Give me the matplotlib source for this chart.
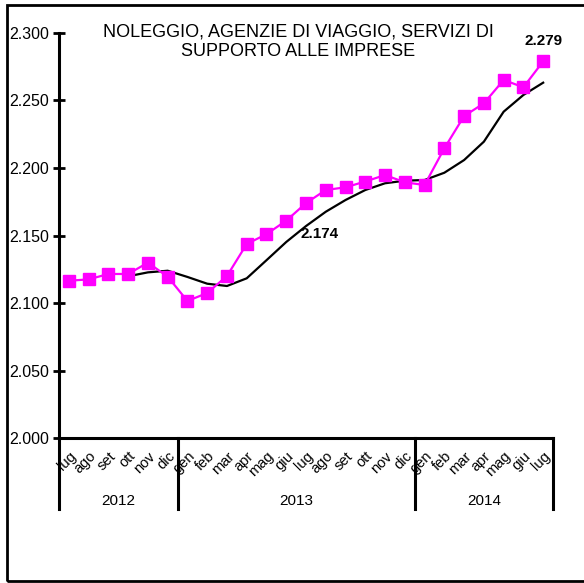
import numpy as np
import matplotlib.pyplot as plt
from matplotlib.lines import Line2D
from matplotlib.patches import Rectangle

plt.rcParams['font.family'] = ['Liberation Sans', 'DejaVu Sans']

# months from lug 2012 to lug 2014
mesi = ['lug', 'ago', 'set', 'ott', 'nov', 'dic',
        'gen', 'feb', 'mar', 'apr', 'mag', 'giu', 'lug', 'ago', 'set', 'ott', 'nov', 'dic',
        'gen', 'feb', 'mar', 'apr', 'mag', 'giu', 'lug']
anni = ['2012', '2013', '2014']
mesi_per_anno = [6, 12, 7]

# monthly values (magenta series)
valori = [2.1165, 2.1175, 2.1215, 2.1215, 2.1299, 2.1195,
          2.1015, 2.1074, 2.1200, 2.1437, 2.1510, 2.1610, 2.1740, 2.1837, 2.1857, 2.1900, 2.1948, 2.1894,
          2.1874, 2.2146, 2.2385, 2.2479, 2.2652, 2.2598, 2.2790]
# trend (black line), starts at ott 2012
trend = [np.nan, np.nan, np.nan, 2.1198, 2.1227, 2.1239,
         2.1193, 2.1143, 2.1126, 2.1183, 2.1317, 2.1452, 2.1570, 2.1676, 2.1763, 2.1837, 2.1887, 2.1906,
         2.1911, 2.1965, 2.2059, 2.2195, 2.2417, 2.2541, 2.2632]

fig = plt.figure(figsize=(5.84, 5.83), dpi=100)
ax = fig.add_axes([0.101, 0.2487, 0.846, 0.6947])

x = np.arange(len(mesi))
ax.plot(x, trend, color='black', lw=1.6, zorder=2)
ax.plot(x, valori, color='#ff00ff', lw=1.6, marker='s', ms=9, zorder=3)

ax.set_xlim(-0.5, len(mesi) - 0.5)
ax.set_ylim(2.0, 2.3)
ax.set_yticks([2.0, 2.05, 2.1, 2.15, 2.2, 2.25, 2.3])
ax.set_yticklabels(['2.000', '2.050', '2.100', '2.150', '2.200', '2.250', '2.300'], fontsize=11.5)
ax.tick_params(axis='y', direction='inout', length=8, width=2, pad=3)

ax.set_xticks(x)
ax.set_xticklabels(mesi, rotation=45, ha='right', rotation_mode='anchor', fontsize=10.5)
ax.tick_params(axis='x', length=0, pad=8)

for s in ['top', 'right']:
    ax.spines[s].set_visible(False)
ax.spines['left'].set_linewidth(2.2)
ax.spines['bottom'].set_linewidth(2.2)

# year group separators and labels
trans = ax.get_xaxis_transform()
start = -0.5
for anno, n in zip(anni, mesi_per_anno):
    ax.add_line(Line2D([start, start], [0, -0.175], transform=trans, color='black', lw=2.2, clip_on=False))
    ax.text(start + n / 2, -0.155, anno, transform=trans, ha='center', va='center', fontsize=11)
    start += n
ax.add_line(Line2D([start, start], [0, -0.175], transform=trans, color='black', lw=2.2, clip_on=False))

# data labels
ax.annotate('2.174', (12, valori[12]), xytext=(-4, -22), textcoords='offset points',
            ha='left', va='center', fontsize=11, fontweight='bold')
ax.annotate('2.279', (24, valori[24]), xytext=(0, 15), textcoords='offset points',
            ha='center', va='center', fontsize=11, fontweight='bold')

fig.text(0.511, 0.929, 'NOLEGGIO, AGENZIE DI VIAGGIO, SERVIZI DI\nSUPPORTO ALLE IMPRESE',
         ha='center', va='center', fontsize=13, linespacing=1.2)

# outer frame
fig.patches.append(Rectangle((0.012, 0.003), 1.2, 0.988, transform=fig.transFigure,
                             fill=False, edgecolor='black', lw=2))

plt.savefig('out.png', dpi=100)
